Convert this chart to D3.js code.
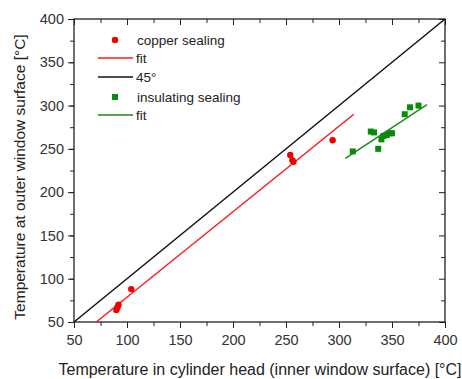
<!DOCTYPE html>
<html><head><meta charset="utf-8">
<script src="https://cdn.jsdelivr.net/npm/d3@7"></script>
<style>body{margin:0;background:#fff;}svg{display:block;font-family:"Liberation Sans",Arial,sans-serif;}</style>
</head><body><svg id="c" width="462" height="379"></svg>
<script>
const xTicks = [50,100,150,200,250,300,350,400];
const yTicks = [50,100,150,200,250,300,350,400];
const copperX = [90,91,92,104,254,256,257,294];
const copperY = [64,67,70,88,243,237,235,260];
const insulX = [313,330,333,337,340,342,345,348,350,362,367,375];
const insulY = [247,270,269,250,261,265,266,268,268,290,298,300];
const copperFitX = [71,314];
const copperFitY = [50,290];
const insulFitX = [306,383];
const insulFitY = [239,301];
const diagX = [50,400];
const diagY = [50,400];
const legendLabels = ["copper sealing","fit","45°","insulating sealing","fit"];

const svg = d3.select("#c");
const m = {l:74, r:445, t:19, b:322};
const x = d3.scaleLinear().domain([50,400]).range([m.l,m.r]);
const y = d3.scaleLinear().domain([50,400]).range([m.b,m.t]);
const minor = d3.range(50,401,25);

const ax = (g)=>g.selectAll("path,line").attr("stroke","#222");
// bottom
svg.append("g").attr("transform",`translate(0,${m.b})`)
  .call(d3.axisBottom(x).tickValues(minor).tickSize(4).tickFormat(""))
  .call(g=>g.select(".domain").remove()).call(ax);
svg.append("g").attr("transform",`translate(0,${m.b})`)
  .call(d3.axisBottom(x).tickValues(xTicks).tickSize(6).tickPadding(7))
  .call(g=>g.select(".domain").remove()).call(ax)
  .call(g=>g.selectAll("text").attr("font-size","14.5px").attr("fill","#333").attr("font-family","Liberation Sans, Arial, sans-serif"));
// left
svg.append("g").attr("transform",`translate(${m.l},0)`)
  .call(d3.axisLeft(y).tickValues(minor).tickSize(4).tickFormat(""))
  .call(g=>g.select(".domain").remove()).call(ax);
svg.append("g").attr("transform",`translate(${m.l},0)`)
  .call(d3.axisLeft(y).tickValues(yTicks).tickSize(6).tickPadding(4))
  .call(g=>g.select(".domain").remove()).call(ax)
  .call(g=>g.selectAll("text").attr("font-size","14.5px").attr("fill","#333").attr("font-family","Liberation Sans, Arial, sans-serif"));
// top (inward)
svg.append("g").attr("transform",`translate(0,${m.t})`)
  .call(d3.axisBottom(x).tickValues(minor).tickSize(4).tickFormat(""))
  .call(g=>g.select(".domain").remove()).call(ax)
  .call(g=>g.selectAll(".tick line").attr("y2",d=>xTicks.includes(d)?6:4));
// right (inward)
svg.append("g").attr("transform",`translate(${m.r},0)`)
  .call(d3.axisLeft(y).tickValues(minor).tickSize(4).tickFormat(""))
  .call(g=>g.select(".domain").remove()).call(ax)
  .call(g=>g.selectAll(".tick line").attr("x2",d=>yTicks.includes(d)?-6:-4));
// frame
svg.append("rect").attr("x",m.l).attr("y",m.t).attr("width",m.r-m.l).attr("height",m.b-m.t)
  .attr("fill","none").attr("stroke","#222").attr("stroke-width",1.3);

const line = d3.line().x(d=>x(d[0])).y(d=>y(d[1]));
svg.append("path").datum(d3.zip(diagX,diagY)).attr("d",line).attr("stroke","#111").attr("stroke-width",1.5).attr("fill","none");
svg.append("path").datum(d3.zip(copperFitX,copperFitY)).attr("d",line).attr("stroke","#ff1a1a").attr("stroke-width",1.5).attr("fill","none");
svg.append("path").datum(d3.zip(insulFitX,insulFitY)).attr("d",line).attr("stroke","#1a8a1a").attr("stroke-width",1.5).attr("fill","none");

svg.append("g").selectAll("circle").data(d3.zip(copperX,copperY)).join("circle")
  .attr("cx",d=>x(d[0])).attr("cy",d=>y(d[1])).attr("r",3.2).attr("fill","#ee0000");
svg.append("g").selectAll("rect").data(d3.zip(insulX,insulY)).join("rect")
  .attr("x",d=>x(d[0])-3).attr("y",d=>y(d[1])-3).attr("width",6).attr("height",6).attr("fill","#0a8a0a");

// legend
const lg = svg.append("g").attr("font-size","13.5px").attr("fill","#222");
lg.append("circle").attr("cx",115).attr("cy",40).attr("r",3.2).attr("fill","#ee0000");
lg.append("text").attr("x",137).attr("y",45).text(legendLabels[0]);
lg.append("line").attr("x1",98).attr("x2",133).attr("y1",58).attr("y2",58).attr("stroke","#ff1a1a").attr("stroke-width",1.5);
lg.append("text").attr("x",136).attr("y",63).text(legendLabels[1]);
lg.append("line").attr("x1",98).attr("x2",133).attr("y1",77).attr("y2",77).attr("stroke","#111").attr("stroke-width",1.5);
lg.append("text").attr("x",136).attr("y",82).text(legendLabels[2]);
lg.append("rect").attr("x",112).attr("y",94).attr("width",6).attr("height",6).attr("fill","#0a8a0a");
lg.append("text").attr("x",137).attr("y",102).text(legendLabels[3]);
lg.append("line").attr("x1",98).attr("x2",133).attr("y1",115).attr("y2",115).attr("stroke","#1a8a1a").attr("stroke-width",1.5);
lg.append("text").attr("x",136).attr("y",120).text(legendLabels[4]);

// titles
svg.append("text").attr("x",260).attr("y",375).attr("text-anchor","middle").attr("font-size","16px").attr("fill","#222")
  .text("Temperature in cylinder head (inner window surface) [°C]");
svg.append("text").attr("transform","translate(24.5,177) rotate(-90)").attr("text-anchor","middle").attr("font-size","15.5px").attr("fill","#222")
  .text("Temperature at outer window surface [°C]");
</script></body></html>
